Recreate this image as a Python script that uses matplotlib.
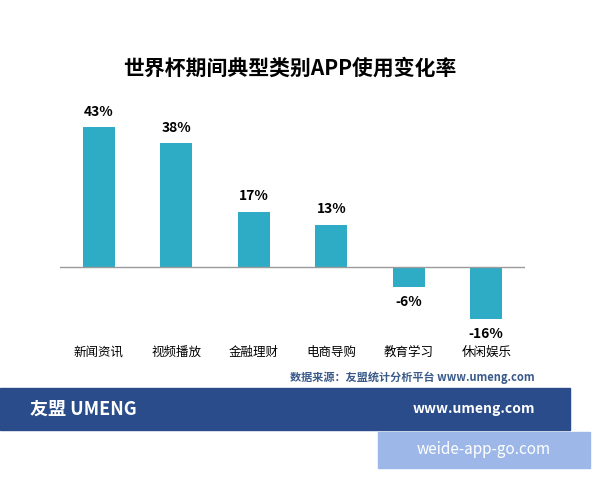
import matplotlib
matplotlib.use("Agg")
import matplotlib.pyplot as plt
from matplotlib.patches import Rectangle

plt.rcParams['font.family'] = ['Noto Sans CJK SC', 'DejaVu Sans']

categories = ["新闻资讯", "视频播放", "金融理财", "电商导购", "教育学习", "休闲娱乐"]
values = [43, 38, 17, 13, -6, -16]
labels = ["43%", "38%", "17%", "13%", "-6%", "-16%"]

W, H = 600, 480
fig = plt.figure(figsize=(6, 4.8), dpi=100)
fig.patch.set_facecolor("white")

def fx(px): return px / W
def fy(py): return 1 - py / H

ax = fig.add_axes([fx(60), fy(330), fx(525) - fx(60), (330 - 100) / H])
x = list(range(len(categories)))
ax.bar(x, values, width=0.41, color="#2EACC6", zorder=2)
ax.axhline(0, color="#9a9a9a", lw=1, zorder=3)
ax.set_xlim(-0.5, 5.5)
ax.set_ylim(-19.35, 51.3)
ax.axis("off")
for xi, v, lab, cat in zip(x, values, labels, categories):
    if v >= 0:
        ax.annotate(lab, (xi, v), xytext=(0, 6), textcoords="offset points",
                    ha="center", va="bottom", fontsize=10, fontweight="bold")
    else:
        ax.annotate(lab, (xi, v), xytext=(0, -6), textcoords="offset points",
                    ha="center", va="top", fontsize=10, fontweight="bold")
    ax.text(xi, -0.0957, cat, transform=ax.get_xaxis_transform(),
            ha="center", va="center", fontsize=9)

fig.text(fx(290), fy(68), "世界杯期间典型类别APP使用变化率", ha="center", va="center",
         fontsize=15, fontweight="bold")
fig.text(fx(535), fy(377), "数据来源：友盟统计分析平台 www.umeng.com", ha="right",
         va="center", fontsize=8, color="#3a5a8a", fontweight="bold")

# bottom banner
fig.patches.append(Rectangle((0, fy(430)), fx(570), (430 - 388) / H,
                             transform=fig.transFigure, color="#2A4C8A", zorder=0))
fig.text(fx(30), fy(409), "友盟 UMENG", ha="left", va="center", fontsize=13,
         fontweight="bold", color="white")
fig.text(fx(535), fy(409), "www.umeng.com", ha="right", va="center", fontsize=10,
         fontweight="bold", color="white")
fig.patches.append(Rectangle((fx(378), fy(468)), fx(590) - fx(378), (468 - 432) / H,
                             transform=fig.transFigure, color="#9DB8E8", zorder=1))
fig.text(fx(484), fy(450), "weide-app-go.com", ha="center", va="center", fontsize=11,
         color="white")

fig.savefig("out.png", dpi=100)
